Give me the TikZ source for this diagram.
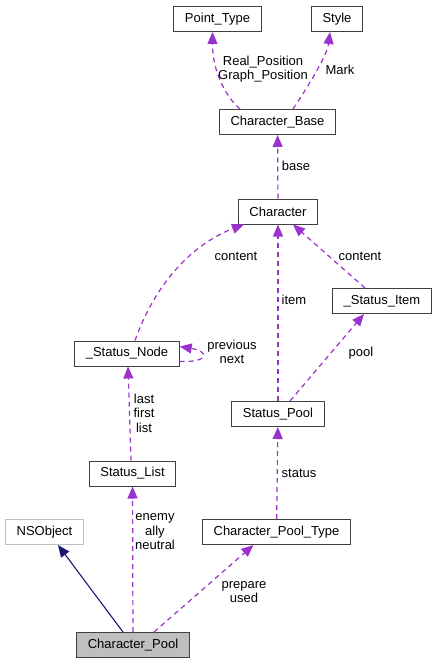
\documentclass[tikz,border=0pt]{standalone}
\usepackage{fontspec}
\setmainfont{Liberation Sans}
\usepackage{xcolor}
\usetikzlibrary{arrows.meta,positioning,calc}

\definecolor{edgepurple}{HTML}{9A32CD}
\definecolor{edgenavy}{HTML}{191970}
\definecolor{boxgray}{HTML}{404040}
\definecolor{cpgray}{HTML}{BFBFBF}

\begin{document}
\begin{tikzpicture}[
    x=1bp, y=-1bp,
    font=\fontsize{13bp}{14.5bp}\selectfont,
    cls/.style={rectangle, draw=boxgray, fill=white, line width=1bp, inner xsep=11bp, inner ysep=0pt, minimum height=25bp},
    ext/.style={cls, draw=cpgray},
    cur/.style={cls, fill=cpgray},
    uses/.style={-{Triangle[length=12bp,width=10bp]}, draw=edgepurple, line width=1.2bp, dash pattern=on 5bp off 4bp},
    inherit/.style={-{Triangle[length=12bp,width=10bp]}, draw=edgenavy, line width=1.1bp},
    lbl/.style={align=center, inner sep=0pt}
]
    \useasboundingbox (0,0) rectangle (437,664);

    % classes
    \node [cls] (pt) at (217.5,19) {Point\_Type};
    \node [cls] (sty) at (337,19) {Style};
    \node [cls] (cb) at (277.5,122) {Character\_Base};
    \node [cls] (ch) at (278,211.5) {Character};
    \node [cls] (si) at (382,301) {\_Status\_Item};
    \node [cls] (sn) at (127,353.5) {\_Status\_Node};
    \node [cls] (sp) at (278,414) {Status\_Pool};
    \node [cls] (sl) at (132.5,473.5) {Status\_List};
    \node [ext] (ns) at (44.5,532) {NSObject};
    \node [cls] (cpt) at (276.5,532) {Character\_Pool\_Type};
    \node [cur] (cp) at (133,645) {Character\_Pool};

    % usage edges
    \draw [uses] ($(cb.north)+(-37.5,0)$) .. controls +(-14,-12) and +(0,40) .. ($(pt.south)+(-5,0)$);
    \draw [uses] ($(cb.north)+(15.5,0)$) .. controls +(10,-15) and +(-3,25) .. ($(sty.south)+(-7,0)$);
    \draw [uses] (ch) -- (cb);
    \draw [uses] ($(sn.north)+(8,0)$) .. controls +(25,-70) and +(-40,15) .. ($(ch.south)+(-34,0)$);
    \draw [uses] ($(si.north)+(-17,0)$) -- ($(ch.south)+(15,0)$);
    \draw [uses] (sp) -- (ch);
    \draw [uses] ($(sp.north)+(12,0)$) -- ($(si.south)+(-18,0)$);
    \draw [uses] ($(sn.east)+(0,8)$) .. controls +(30,1) and +(30,5) .. ($(sn.east)+(0,-7)$);
    \draw [uses] ($(sl.north)+(-1.5,0)$) -- ($(sn.south)+(1,0)$);
    \draw [uses] (cpt) -- (sp);
    \draw [uses] (cp) -- (sl);
    \draw [uses] ($(cp.north)+(21,0)$) -- ($(cpt.south)+(-23,0)$);
    \draw [inherit] ($(cp.north)+(-10,0)$) -- ($(ns.south)+(13.5,0)$);

    % edge labels
    \node [lbl] (lpos) at (263,69) {Real\_Position\\Graph\_Position};
    \node [lbl] (lmark) at (340,70) {Mark};
    \node [lbl] (lbase) at (296,166) {base};
    \node [lbl] (lcont1) at (236,256) {content};
    \node [lbl] (lcont2) at (360,256) {content};
    \node [lbl] (litem) at (294,300) {item};
    \node [lbl] (lpool) at (361,353) {pool};
    \node [lbl] (lprev) at (232,352) {previous\\next};
    \node [lbl] (llast) at (144,413) {last\\first\\list};
    \node [lbl] (lstat) at (299,473) {status};
    \node [lbl] (lenemy) at (155,532) {enemy\\ally\\neutral};
    \node [lbl] (lprep) at (244,592) {prepare\\used};
\end{tikzpicture}
\end{document}
